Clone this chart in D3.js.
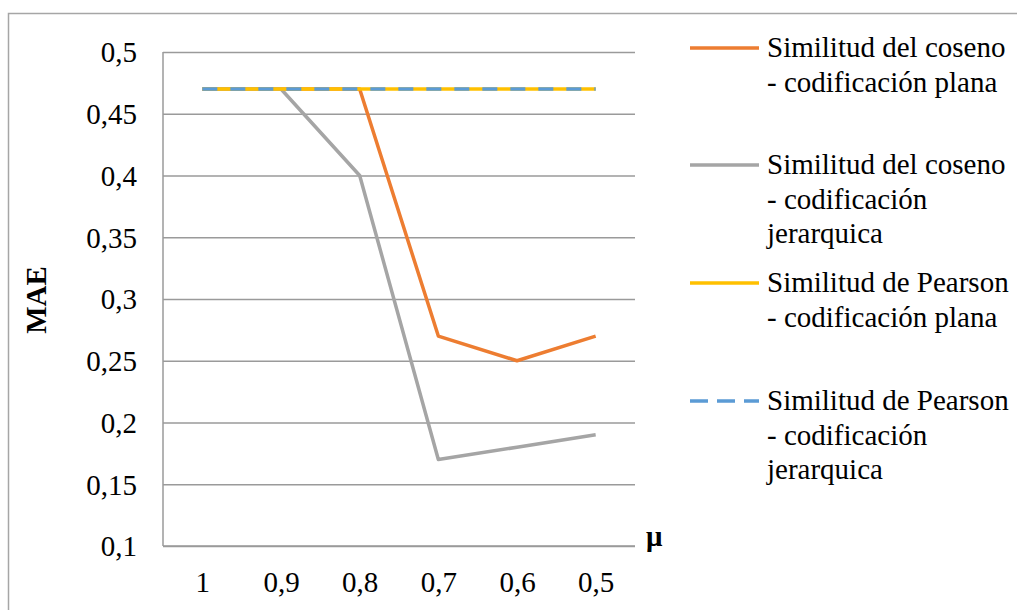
<!DOCTYPE html>
<html>
<head>
<meta charset="utf-8">
<script src="https://cdn.jsdelivr.net/npm/d3@7/dist/d3.min.js"></script>
<style>
  html, body { margin: 0; padding: 0; background: #fff; }
  svg { display: block; }
  svg text { font-family: "Liberation Serif", "Times New Roman", Tinos, "DejaVu Serif", serif !important; fill: #000; }
</style>
</head>
<body>
<svg id="chart" width="1017" height="610"></svg>
<script>
// Umbral μ (eje X) y error medio absoluto (eje Y)
const categories = ["1", "0,9", "0,8", "0,7", "0,6", "0,5"];
const cosenoPlana = [0.47, 0.47, 0.47, 0.27, 0.25, 0.27];
const cosenoJerarquica = [0.47, 0.47, 0.40, 0.17, 0.18, 0.19];
const pearsonPlana = [0.47, 0.47, 0.47, 0.47, 0.47, 0.47];
const pearsonJerarquica = [0.47, 0.47, 0.47, 0.47, 0.47, 0.47];
const yTicks = [0.1, 0.15, 0.2, 0.25, 0.3, 0.35, 0.4, 0.45, 0.5];

const series = [
  { name: ["Similitud del coseno", "- codificación plana"], values: cosenoPlana, color: "#ED7D31", dash: null },
  { name: ["Similitud del coseno", "- codificación", "jerarquica"], values: cosenoJerarquica, color: "#A5A5A5", dash: null },
  { name: ["Similitud de Pearson", "- codificación plana"], values: pearsonPlana, color: "#FFC000", dash: null },
  { name: ["Similitud de Pearson", "- codificación", "jerarquica"], values: pearsonJerarquica, color: "#5B9BD5", dash: "15,13" }
];

const FONT = "'Liberation Serif', 'Times New Roman', Tinos, 'DejaVu Serif', serif";
const FS = 29;
const svg = d3.select("#chart");
const plot = { left: 163, right: 635, top: 52, bottom: 546 };

// Chart frame
svg.append("rect")
  .attr("x", 8.5).attr("y", 13.5)
  .attr("width", 1040).attr("height", 640)
  .attr("fill", "none").attr("stroke", "#A6A6A6").attr("stroke-width", 1.5);

const x = d3.scalePoint().domain(categories).range([plot.left, plot.right]).padding(0.5);
const y = d3.scaleLinear().domain([0.1, 0.5]).range([plot.bottom, plot.top]);
const fmt = v => d3.format(".2~f")(v).replace(".", ",");

// Horizontal gridlines + Y labels
const yAxis = d3.axisLeft(y).tickValues(yTicks).tickSize(-(plot.right - plot.left)).tickFormat(fmt).tickPadding(26);
const gy = svg.append("g").attr("transform", `translate(${plot.left},0)`).call(yAxis)
  .attr("font-family", FONT).attr("font-size", FS);
gy.select(".domain").remove();
gy.selectAll(".tick line").attr("stroke", "#9A9A9A").attr("stroke-width", 1.5);
gy.selectAll(".tick text").attr("dy", "0.34em");

// Vertical axis line
svg.append("line")
  .attr("x1", plot.left).attr("x2", plot.left)
  .attr("y1", plot.top).attr("y2", plot.bottom)
  .attr("stroke", "#9A9A9A").attr("stroke-width", 1.5);

// X axis
const xAxis = d3.axisBottom(x).tickSize(0).tickPadding(25);
const gx = svg.append("g").attr("transform", `translate(0,${plot.bottom})`).call(xAxis)
  .attr("font-family", FONT).attr("font-size", FS);
gx.select(".domain").attr("stroke", "#9A9A9A").attr("stroke-width", 1.5)
  .attr("d", `M${plot.left},0H${plot.right}`);
gx.selectAll(".tick text").attr("dy", "0.71em");

// Series lines
const line = d3.line().x((d, i) => x(categories[i])).y(d => y(d));
series.forEach(s => {
  svg.append("path")
    .datum(s.values)
    .attr("d", line)
    .attr("fill", "none")
    .attr("stroke", s.color)
    .attr("stroke-width", 3.5)
    .attr("stroke-linejoin", "round")
    .attr("stroke-dasharray", s.dash);
});

// Axis titles
svg.append("text")
  .attr("transform", "translate(46,300) rotate(-90)")
  .attr("text-anchor", "middle")
  .style("font-family", FONT)
  .attr("font-size", FS).attr("font-weight", "bold")
  .text("MAE");
svg.append("text")
  .attr("x", 646).attr("y", 546)
  .style("font-family", FONT)
  .attr("font-size", FS).attr("font-weight", "bold")
  .text("μ");

// Legend
const legendY = [48, 165, 283, 401];
const lg = svg.append("g");
series.forEach((s, i) => {
  const yy = legendY[i];
  lg.append("line")
    .attr("x1", 690).attr("x2", 759).attr("y1", yy).attr("y2", yy)
    .attr("stroke", s.color).attr("stroke-width", 3.5)
    .attr("stroke-dasharray", s.dash ? "18,9" : null);
  const t = lg.append("text").attr("x", 767).attr("y", yy + 9)
    .style("font-family", FONT).attr("font-size", FS);
  s.name.forEach((ln, k) => {
    t.append("tspan").attr("x", 767).attr("dy", k === 0 ? 0 : 34.5).text(ln);
  });
});
</script>
</body>
</html>
